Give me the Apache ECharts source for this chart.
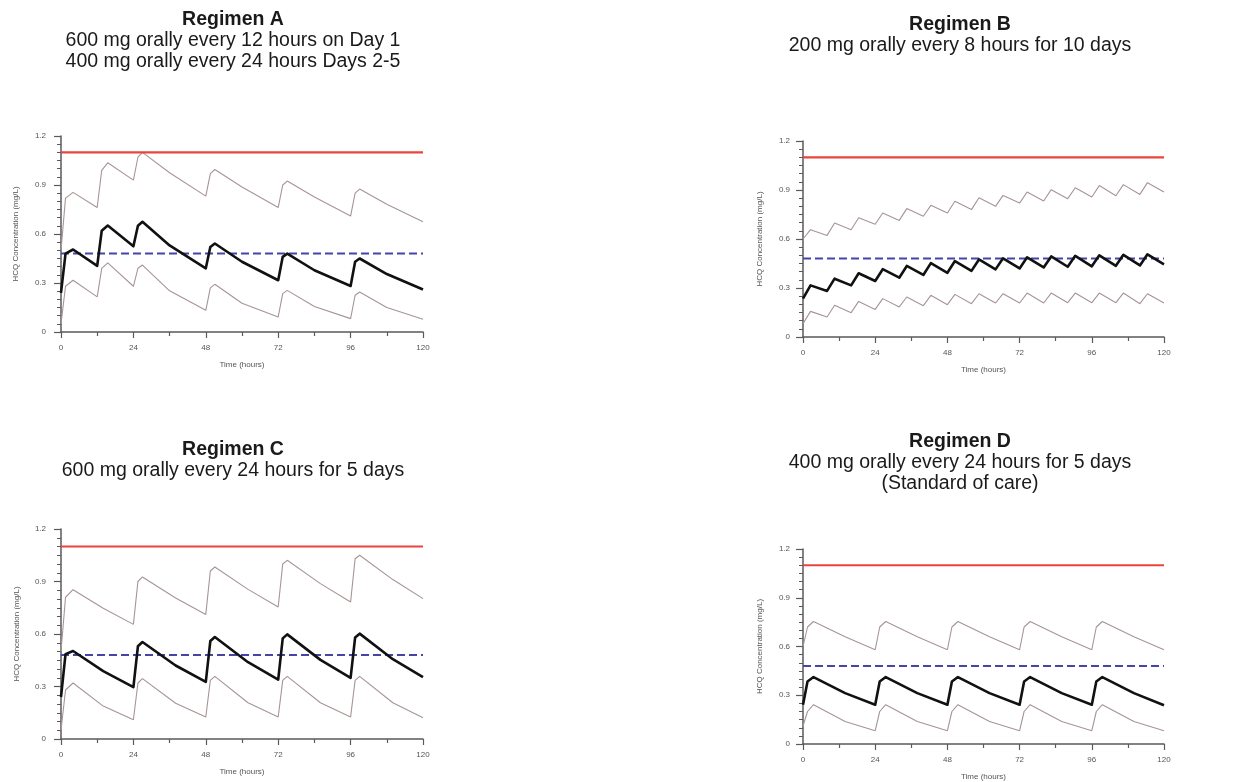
<!DOCTYPE html>
<html>
<head>
<meta charset="utf-8">
<script src="https://cdn.jsdelivr.net/npm/echarts@6/dist/echarts.min.js"></script>
<style>
html,body{margin:0;padding:0;background:#fff;}
#chart{width:1234px;height:782px;}
</style>
</head>
<body>
<div id="chart"></div>
<script>
// ---------- Data ----------
const Y_TICKS = [0, 0.3, 0.6, 0.9, 1.2];
const X_TICKS = [0, 24, 48, 72, 96, 120];
const TOXIC_LEVEL = 1.1;
const TARGET_LEVEL = 0.48;

// Regimen A
const TIME_A   = [0, 1.5, 4, 12, 13.5, 15.5, 24, 25.5, 27, 36, 48, 49.5, 51, 60, 72, 73.5, 75, 84, 96, 97.5, 99, 108, 120];
const MEDIAN_A = [0.24, 0.48, 0.505, 0.405, 0.62, 0.652, 0.525, 0.65, 0.675, 0.53, 0.39, 0.52, 0.542, 0.43, 0.317, 0.46, 0.48, 0.378, 0.282, 0.43, 0.45, 0.355, 0.26];
const UPPER_A  = [0.5, 0.82, 0.855, 0.762, 0.99, 1.036, 0.93, 1.07, 1.10, 0.975, 0.832, 0.97, 0.995, 0.888, 0.762, 0.9, 0.924, 0.826, 0.71, 0.85, 0.875, 0.782, 0.675];
const LOWER_A  = [0.05, 0.28, 0.317, 0.215, 0.39, 0.423, 0.28, 0.39, 0.41, 0.252, 0.133, 0.27, 0.292, 0.176, 0.092, 0.235, 0.255, 0.156, 0.082, 0.225, 0.245, 0.15, 0.078];

// Regimen B
const TIME_B   = [0, 2.5, 8, 10.5, 16, 18.5, 24, 26.5, 32, 34.5, 40, 42.5, 48, 50.5, 56, 58.5, 64, 66.5, 72, 74.5, 80, 82.5, 88, 90.5, 96, 98.5, 104, 106.5, 112, 114.5, 120];
const MEDIAN_B = [0.235, 0.316, 0.282, 0.357, 0.316, 0.39, 0.343, 0.415, 0.363, 0.435, 0.38, 0.452, 0.393, 0.465, 0.405, 0.475, 0.414, 0.482, 0.42, 0.488, 0.426, 0.493, 0.43, 0.497, 0.433, 0.5, 0.436, 0.503, 0.438, 0.506, 0.445];
const UPPER_B  = [0.6, 0.657, 0.622, 0.698, 0.657, 0.73, 0.69, 0.759, 0.714, 0.786, 0.739, 0.806, 0.759, 0.831, 0.78, 0.853, 0.8, 0.867, 0.82, 0.888, 0.833, 0.902, 0.847, 0.914, 0.857, 0.927, 0.865, 0.933, 0.873, 0.945, 0.888];
const LOWER_B  = [0.082, 0.157, 0.122, 0.194, 0.149, 0.218, 0.169, 0.235, 0.184, 0.245, 0.192, 0.255, 0.198, 0.261, 0.204, 0.265, 0.208, 0.265, 0.208, 0.269, 0.208, 0.269, 0.21, 0.269, 0.21, 0.269, 0.21, 0.269, 0.204, 0.265, 0.208];

// Regimen C
const TIME_C   = [0, 1.5, 4, 14, 24, 25.5, 27, 38, 48, 49.5, 51, 62, 72, 73.5, 75, 86, 96, 97.5, 99, 110, 120];
const MEDIAN_C = [0.24, 0.485, 0.503, 0.388, 0.297, 0.53, 0.554, 0.42, 0.326, 0.56, 0.583, 0.439, 0.339, 0.575, 0.598, 0.452, 0.349, 0.58, 0.602, 0.456, 0.354];
const UPPER_C  = [0.5, 0.81, 0.853, 0.747, 0.655, 0.9, 0.926, 0.806, 0.712, 0.96, 0.983, 0.855, 0.754, 1.0, 1.021, 0.888, 0.783, 1.03, 1.05, 0.911, 0.802];
const LOWER_C  = [0.05, 0.28, 0.32, 0.188, 0.11, 0.32, 0.345, 0.204, 0.126, 0.335, 0.358, 0.207, 0.126, 0.335, 0.358, 0.207, 0.126, 0.335, 0.358, 0.207, 0.122];

// Regimen D
const TIME_D   = [0, 1.5, 3.5, 14, 24, 25.5, 27.5, 38, 48, 49.5, 51.5, 62, 72, 73.5, 75.5, 86, 96, 97.5, 99.5, 110, 120];
const MEDIAN_D = [0.242, 0.385, 0.412, 0.313, 0.242, 0.385, 0.412, 0.313, 0.242, 0.385, 0.412, 0.313, 0.242, 0.385, 0.412, 0.313, 0.242, 0.385, 0.412, 0.313, 0.238];
const UPPER_D  = [0.6, 0.72, 0.754, 0.66, 0.58, 0.72, 0.754, 0.66, 0.58, 0.72, 0.754, 0.66, 0.58, 0.72, 0.754, 0.66, 0.58, 0.72, 0.754, 0.66, 0.58];
const LOWER_D  = [0.11, 0.2, 0.242, 0.139, 0.082, 0.2, 0.242, 0.139, 0.082, 0.2, 0.242, 0.139, 0.082, 0.2, 0.242, 0.139, 0.082, 0.2, 0.242, 0.139, 0.082];

// Titles
const TITLES = [
  ['Regimen A', '600 mg orally every 12 hours on Day 1', '400 mg orally every 24 hours Days 2-5'],
  ['Regimen B', '200 mg orally every 8 hours for 10 days'],
  ['Regimen C', '600 mg orally every 24 hours for 5 days'],
  ['Regimen D', '400 mg orally every 24 hours for 5 days', '(Standard of care)']
];
const X_NAME = 'Time (hours)';
const Y_NAME = 'HCQ Concentration (mg/L)';

// ---------- Layout ----------
const panels = [
  {grid:{left:61, top:136, width:362, height:196}, title:{x:233, y:20}, time:TIME_A, med:MEDIAN_A, up:UPPER_A, lo:LOWER_A, yLabelMargin:15, yNameGap:41},
  {grid:{left:803, top:141, width:361, height:196}, title:{x:960, y:25}, time:TIME_B, med:MEDIAN_B, up:UPPER_B, lo:LOWER_B, yLabelMargin:13, yNameGap:39},
  {grid:{left:61, top:529, width:362, height:210}, title:{x:233, y:450}, time:TIME_C, med:MEDIAN_C, up:UPPER_C, lo:LOWER_C, yLabelMargin:15, yNameGap:40},
  {grid:{left:803, top:549, width:361, height:195}, title:{x:960, y:441.5}, time:TIME_D, med:MEDIAN_D, up:UPPER_D, lo:LOWER_D, yLabelMargin:13, yNameGap:39}
];

const FONT = '"Liberation Sans", Arial, sans-serif';
const AXIS_COLOR = '#5a5a5a';
const grids = [], xAxes = [], yAxes = [], series = [], graphics = [];

function zip(t, v) { return t.map((x, i) => [x, v[i]]); }

panels.forEach((p, i) => {
  grids.push(Object.assign({containLabel:false}, p.grid));
  xAxes.push({
    type:'value', gridIndex:i, min:X_TICKS[0], max:X_TICKS[X_TICKS.length-1], interval:X_TICKS[1]-X_TICKS[0],
    name:X_NAME, nameLocation:'middle', nameGap:29,
    nameTextStyle:{fontFamily:FONT, fontSize:8, color:'#555'},
    axisLine:{show:true, onZero:false, lineStyle:{color:AXIS_COLOR, width:1.5}},
    axisTick:{show:true, length:6, lineStyle:{color:AXIS_COLOR, width:1.2}},
    minorTick:{show:true, splitNumber:2, length:4, lineStyle:{color:AXIS_COLOR, width:1.2}},
    axisLabel:{fontFamily:FONT, fontSize:8, color:'#555', margin:12},
    splitLine:{show:false}
  });
  yAxes.push({
    type:'value', gridIndex:i, min:Y_TICKS[0], max:Y_TICKS[Y_TICKS.length-1], interval:Y_TICKS[1]-Y_TICKS[0],
    name:Y_NAME, nameLocation:'middle', nameGap:p.yNameGap, nameRotate:90,
    nameTextStyle:{fontFamily:FONT, fontSize:8, color:'#555'},
    axisLine:{show:true, onZero:false, lineStyle:{color:AXIS_COLOR, width:1.5}},
    axisTick:{show:true, length:7, lineStyle:{color:AXIS_COLOR, width:1.2}},
    minorTick:{show:true, splitNumber:6, length:4, lineStyle:{color:AXIS_COLOR, width:1}},
    axisLabel:{fontFamily:FONT, fontSize:8, color:'#555', margin:p.yLabelMargin},
    splitLine:{show:false}
  });
  const base = {type:'line', xAxisIndex:i, yAxisIndex:i, showSymbol:false, symbol:'none', silent:true, animation:false};
  series.push(Object.assign({}, base, {name:'Toxic', data:[[X_TICKS[0], TOXIC_LEVEL],[X_TICKS[X_TICKS.length-1], TOXIC_LEVEL]], lineStyle:{color:'#e8453c', width:2.2}, z:3}));
  series.push(Object.assign({}, base, {name:'Target', data:[[X_TICKS[0], TARGET_LEVEL],[X_TICKS[X_TICKS.length-1], TARGET_LEVEL]], lineStyle:{color:'#4545a8', width:2, type:[8,4]}, z:3}));
  series.push(Object.assign({}, base, {name:'95th', data:zip(p.time, p.up), lineStyle:{color:'#a89494', width:1.1}, z:2}));
  series.push(Object.assign({}, base, {name:'5th', data:zip(p.time, p.lo), lineStyle:{color:'#a89494', width:1.1}, z:2}));
  series.push(Object.assign({}, base, {name:'Median', data:zip(p.time, p.med), lineStyle:{color:'#111', width:2.6, join:'round'}, z:4}));

  const lines = TITLES[i];
  lines.forEach((txt, k) => {
    graphics.push({
      type:'text', x:p.title.x, y:p.title.y + k*21, silent:true,
      style:{text:txt, fill:'#1a1a1a', font:(k===0 ? 'bold ' : '') + '19.5px ' + FONT, textAlign:'center', textVerticalAlign:'middle'}
    });
  });
});

const chart = echarts.init(document.getElementById('chart'), null, {renderer:'canvas'});
chart.setOption({
  animation:false,
  backgroundColor:'#fff',
  grid:grids, xAxis:xAxes, yAxis:yAxes, series:series, graphic:graphics
});
</script>
</body>
</html>
